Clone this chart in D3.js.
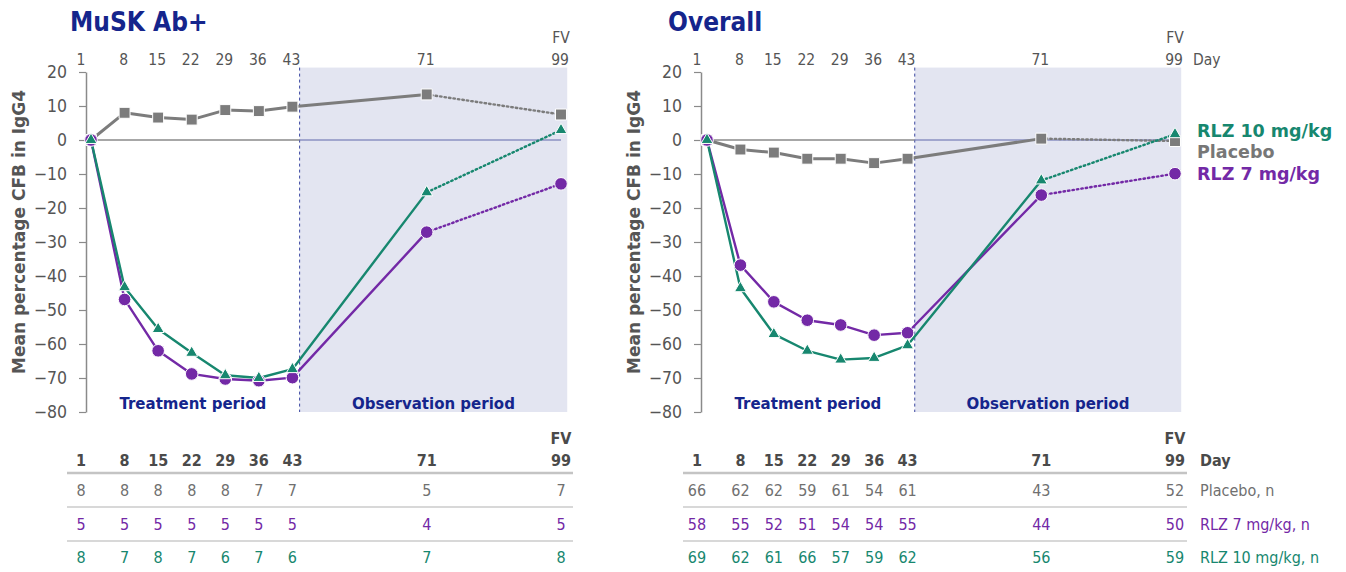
<!DOCTYPE html>
<html>
<head>
<meta charset="utf-8">
<script src="https://cdn.jsdelivr.net/npm/d3@7"></script>
<style>
  body { margin: 0; background: #fff; }
  svg { display: block; }
  text { font-family: "DejaVu Sans Condensed", "DejaVu Sans", sans-serif; }
</style>
</head>
<body>
<script>
let days = [1, 8, 15, 22, 29, 36, 43, 71, 99];
let dayLabels = ['1', '8', '15', '22', '29', '36', '43', '71', '99'];
let yTicks = [20, 10, 0, -10, -20, -30, -40, -50, -60, -70, -80];

let muskPlacebo = [0, 8.0, 6.6, 6.0, 8.8, 8.5, 9.8, 13.4, 7.5];
let muskRlz7 = [0, -46.9, -62.0, -68.8, -70.3, -70.8, -69.9, -27.1, -12.9];
let muskRlz10 = [0, -43.3, -55.6, -62.6, -69.2, -70.0, -67.4, -15.4, 2.9];

let overallPlacebo = [0, -2.8, -3.7, -5.5, -5.5, -6.8, -5.5, 0.4, -0.3];
let overallRlz7 = [0, -36.8, -47.6, -53.0, -54.4, -57.4, -56.7, -16.2, -9.9];
let overallRlz10 = [0, -43.6, -57.1, -62.0, -64.6, -64.1, -60.4, -11.9, 1.7];

let muskNPlacebo = [8, 8, 8, 8, 8, 7, 7, 5, 7];
let muskNRlz7 = [5, 5, 5, 5, 5, 5, 5, 4, 5];
let muskNRlz10 = [8, 7, 8, 7, 6, 7, 6, 7, 8];

let overallNPlacebo = [66, 62, 62, 59, 61, 54, 61, 43, 52];
let overallNRlz7 = [58, 55, 52, 51, 54, 54, 55, 44, 50];
let overallNRlz10 = [69, 62, 61, 66, 57, 59, 62, 56, 59];

let periodEnd = 44.5;   // treatment / observation boundary (day)
let shadeEnd = 100.3;

let navy = '#15258c';
let grey = '#7c7c7c';
let purple = '#7329a6';
let green = '#17876f';
let textGrey = '#555';

let w = 1346, h = 572;
let svg = d3.select('body').append('svg').attr('width', w).attr('height', h);

let y = d3.scaleLinear().domain([-80, 20]).range([412, 72]);

let drawPanel = (p) => {
    let x = d3.scaleLinear().domain([1, 99]).range([p.x1, p.x99]);
    let g = svg.append('g');

    // observation shading
    g.append('rect')
        .attr('x', x(periodEnd))
        .attr('y', y(21.3))
        .attr('width', x(shadeEnd) - x(periodEnd))
        .attr('height', y(-80) - y(21.3))
        .attr('fill', '#e3e5f1');

    g.append('line')
        .attr('x1', x(periodEnd)).attr('x2', x(periodEnd))
        .attr('y1', y(21.3)).attr('y2', y(-80))
        .attr('stroke', '#3a46a0').attr('stroke-width', 1)
        .attr('stroke-dasharray', '3,3');

    // zero line
    g.append('line')
        .attr('x1', p.axisX).attr('x2', x(periodEnd))
        .attr('y1', y(0)).attr('y2', y(0))
        .attr('stroke', '#8a8a8a').attr('stroke-width', 1.5);
    g.append('line')
        .attr('x1', x(periodEnd)).attr('x2', x(99))
        .attr('y1', y(0)).attr('y2', y(0))
        .attr('stroke', '#6068ac').attr('stroke-width', 1.2);

    let yAxis = g.append('g')
        .attr('transform', `translate(${p.axisX},0)`)
        .call(d3.axisLeft(y).tickValues(yTicks).tickSize(7).tickSizeOuter(0).tickPadding(12));
    yAxis.select('.domain').attr('stroke', '#8a8a8a').attr('stroke-width', 1.5);
    yAxis.selectAll('.tick line').attr('stroke', '#8a8a8a').attr('stroke-width', 1.2);
    yAxis.selectAll('.tick text')
        .attr('fill', textGrey)
        .style('font-size', '17.5px')
        .style('font-family', '"DejaVu Sans Condensed", sans-serif');

    g.append('text')
        .attr('transform', `translate(${p.axisX - 67},${y(-30) - 10}) rotate(-90)`)
        .attr('text-anchor', 'middle')
        .attr('dy', '0.35em')
        .attr('fill', textGrey)
        .style('font-family', '"DejaVu Sans", sans-serif')
        .style('font-weight', 'bold')
        .style('font-size', '17px')
        .text('Mean percentage CFB in IgG4');

    // title
    g.append('text')
        .attr('x', p.titleX).attr('y', 31)
        .attr('fill', navy)
        .style('font-weight', 'bold')
        .style('font-size', '26px')
        .text(p.title);

    // top day labels
    g.selectAll('.daylab')
        .data(days)
        .enter()
        .append('text')
        .attr('x', (d, i) => x(d) + (i === 0 ? -10 : -1))
        .attr('y', 65)
        .attr('text-anchor', 'middle')
        .attr('fill', textGrey)
        .style('font-size', '15.5px')
        .text((d, i) => dayLabels[i]);
    g.append('text')
        .attr('x', x(99)).attr('y', 43)
        .attr('text-anchor', 'middle')
        .attr('fill', textGrey)
        .style('font-size', '15.5px')
        .text('FV');

    // period labels
    g.append('text')
        .attr('x', (p.axisX + x(periodEnd)) / 2).attr('y', 409)
        .attr('text-anchor', 'middle').attr('fill', navy)
        .style('font-family', '"DejaVu Sans", sans-serif')
        .style('font-weight', 'bold').style('font-size', '15px')
        .text('Treatment period');
    g.append('text')
        .attr('x', (x(periodEnd) + x(shadeEnd)) / 2).attr('y', 409)
        .attr('text-anchor', 'middle').attr('fill', navy)
        .style('font-family', '"DejaVu Sans", sans-serif')
        .style('font-weight', 'bold').style('font-size', '15px')
        .text('Observation period');

    let line = d3.line().x(d => x(d[0])).y(d => y(d[1]));

    let series = [
        {vals: p.placebo, color: grey, sym: d3.symbolSquare, size: 120, lw: 3},
        {vals: p.rlz7, color: purple, sym: d3.symbolCircle, size: 125, lw: 2.4},
        {vals: p.rlz10, color: green, sym: d3.symbolTriangle, size: 62, lw: 2.4}
    ];

    series.forEach(s => {
        let pts = days.map((d, i) => [d, s.vals[i]]);
        g.append('path')
            .attr('d', line(pts.slice(0, 8)))
            .attr('fill', 'none')
            .attr('stroke', s.color)
            .attr('stroke-width', s.lw)
            .attr('stroke-linejoin', 'round');
        g.append('path')
            .attr('d', line(pts.slice(7)))
            .attr('fill', 'none')
            .attr('stroke', s.color)
            .attr('stroke-width', 2.4)
            .attr('stroke-dasharray', '1.5,3')
            .attr('stroke-linecap', 'round');
    });

    series.forEach(s => {
        g.selectAll(null)
            .data(days.map((d, i) => [d, s.vals[i]]))
            .enter()
            .append('path')
            .attr('d', d3.symbol().type(s.sym).size(s.size))
            .attr('transform', d => `translate(${x(d[0])},${y(d[1])})`)
            .attr('fill', s.color)
            .attr('stroke', '#fff')
            .attr('stroke-width', 1);
    });

    // n table
    g.selectAll('.thead')
        .data(days)
        .enter()
        .append('text')
        .attr('x', (d, i) => x(d) + (i === 0 ? -10 : 0))
        .attr('y', 466)
        .attr('text-anchor', 'middle')
        .attr('fill', '#4a4a4a')
        .style('font-weight', 'bold')
        .style('font-size', '16px')
        .text((d, i) => dayLabels[i]);
    g.append('text')
        .attr('x', x(99)).attr('y', 444)
        .attr('text-anchor', 'middle')
        .attr('fill', '#4a4a4a')
        .style('font-weight', 'bold')
        .style('font-size', '16px')
        .text('FV');

    let rows = [
        {n: p.nPlacebo, color: '#707070', label: 'Placebo, n', yy: 496},
        {n: p.nRlz7, color: purple, label: 'RLZ 7 mg/kg, n', yy: 530},
        {n: p.nRlz10, color: green, label: 'RLZ 10 mg/kg, n', yy: 563}
    ];
    let seps = [{yy: 473, c: '#c4c4c4', sw: 2.5}, {yy: 507, c: '#d8d8d8', sw: 2}, {yy: 541, c: '#d8d8d8', sw: 2}];
    seps.forEach(s => {
        g.append('line')
            .attr('x1', p.tableX1).attr('x2', x(99) + 12)
            .attr('y1', s.yy).attr('y2', s.yy)
            .attr('stroke', s.c).attr('stroke-width', s.sw);
    });
    rows.forEach(r => {
        g.selectAll(null)
            .data(r.n)
            .enter()
            .append('text')
            .attr('x', (d, i) => x(days[i]) + (i === 0 ? -10 : 0))
            .attr('y', r.yy)
            .attr('text-anchor', 'middle')
            .attr('fill', r.color)
            .style('font-size', '16px')
            .text(d => d);
        if (p.rowLabels) {
            g.append('text')
                .attr('x', x(99) + 25).attr('y', r.yy)
                .attr('fill', r.color)
                .style('font-size', '16px')
                .text(r.label);
        }
    });

    if (p.rowLabels) {
        g.append('text')
            .attr('x', x(99) + 18).attr('y', 65)
            .attr('fill', textGrey)
            .style('font-size', '15.5px')
            .text('Day');
        g.append('text')
            .attr('x', x(99) + 25).attr('y', 466)
            .attr('fill', '#4a4a4a')
            .style('font-weight', 'bold')
            .style('font-size', '16px')
            .text('Day');

        let legend = [
            {t: 'RLZ 10 mg/kg', c: green, yy: 137},
            {t: 'Placebo', c: '#777', yy: 158},
            {t: 'RLZ 7 mg/kg', c: purple, yy: 180}
        ];
        legend.forEach(l => {
            g.append('text')
                .attr('x', x(99) + 22).attr('y', l.yy)
                .attr('fill', l.c)
                .style('font-family', '"DejaVu Sans", sans-serif')
                .style('font-weight', 'bold')
                .style('font-size', '17.5px')
                .text(l.t);
        });
    }
};

drawPanel({
    title: 'MuSK Ab+', titleX: 70,
    x1: 91, x99: 561, axisX: 86, tableX1: 67,
    placebo: muskPlacebo, rlz7: muskRlz7, rlz10: muskRlz10,
    nPlacebo: muskNPlacebo, nRlz7: muskNRlz7, nRlz10: muskNRlz10,
    rowLabels: false
});

drawPanel({
    title: 'Overall', titleX: 668,
    x1: 707, x99: 1175, axisX: 701, tableX1: 683,
    placebo: overallPlacebo, rlz7: overallRlz7, rlz10: overallRlz10,
    nPlacebo: overallNPlacebo, nRlz7: overallNRlz7, nRlz10: overallNRlz10,
    rowLabels: true
});
</script>
</body>
</html>
